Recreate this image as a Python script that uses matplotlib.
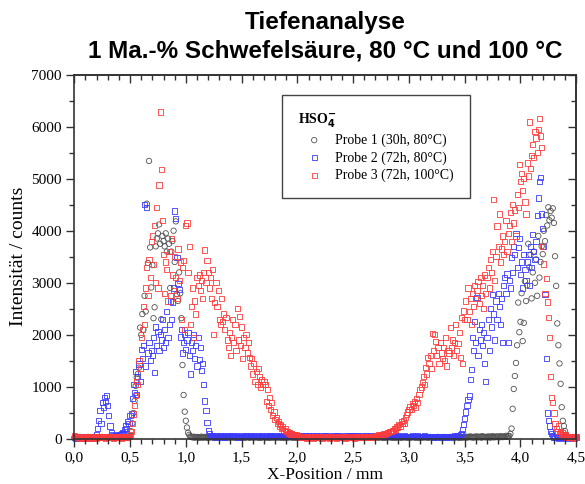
import numpy as np
import matplotlib
matplotlib.use("Agg")
from matplotlib import pyplot as plt
from matplotlib.ticker import MultipleLocator, FuncFormatter, NullFormatter

# measured intensities, one value per 0.01 mm, starting at 0.00 mm
probe1 = [
    30, 25, 35, 20, 30, 40, 25, 30, 35, 20,
    30, 25, 40, 30, 20, 35, 30, 25, 40, 30,
    25, 35, 30, 20, 30, 40, 25, 35, 30, 25,
    30, 40, 25, 30, 20, 35, 30, 25, 40, 30,
    35, 25, 30, 40, 20, 30, 35, 25, 30, 40,
    60, 150, 300, 500, 730, 1020, 1180, 1250, 1370, 2140,
    2000, 2400, 2100, 2750, 2450, 4520, 3380, 5340, 3680, 2910,
    3340, 2320, 2530, 3700, 3850, 3950, 4120, 3750, 2300, 3900,
    3800, 3700, 3950, 3600, 3850, 3750, 2900, 3600, 3800, 4000,
    3400, 4180, 2780, 2650, 3200, 2800, 2320, 1420, 845, 525,
    350, 220, 120, 80, 50, 40, 30, 45, 25, 35,
    40, 30, 20, 35, 45, 25, 30, 40, 35, 20,
    30, 25, 35, 40, 30, 20, 35, 30, 25, 40,
    30, 35, 25, 30, 40, 30, 20, 35, 30, 25,
    35, 30, 40, 25, 30, 35, 20, 30, 40, 30,
    25, 35, 30, 20, 35, 40, 30, 25, 30, 35,
    30, 25, 40, 30, 35, 25, 30, 20, 35, 30,
    40, 30, 25, 35, 30, 20, 30, 40, 25, 35,
    30, 35, 25, 40, 30, 25, 35, 30, 20, 30,
    35, 25, 30, 40, 30, 35, 25, 30, 35, 20,
    30, 40, 25, 30, 35, 30, 20, 35, 30, 40,
    25, 30, 35, 30, 25, 40, 30, 20, 35, 30,
    30, 35, 25, 30, 40, 25, 30, 35, 30, 20,
    35, 30, 40, 25, 30, 35, 30, 25, 40, 30,
    25, 35, 30, 20, 30, 40, 35, 25, 30, 35,
    30, 25, 35, 40, 30, 20, 35, 30, 25, 30,
    40, 30, 25, 35, 30, 35, 20, 30, 40, 25,
    30, 35, 30, 25, 40, 30, 35, 20, 30, 35,
    25, 30, 40, 30, 35, 25, 30, 35, 20, 30,
    35, 40, 30, 25, 30, 35, 30, 40, 25, 30,
    30, 25, 35, 30, 40, 30, 25, 35, 30, 20,
    35, 30, 25, 40, 30, 35, 30, 25, 30, 40,
    25, 35, 30, 30, 20, 35, 40, 30, 25, 35,
    30, 40, 25, 35, 30, 25, 30, 40, 35, 30,
    35, 25, 30, 40, 30, 20, 35, 30, 25, 40,
    30, 45, 25, 40, 35, 50, 30, 40, 25, 45,
    35, 50, 30, 40, 45, 25, 55, 35, 40, 30,
    45, 35, 50, 25, 40, 55, 30, 45, 35, 50,
    40, 30, 55, 45, 35, 50, 40, 60, 45, 55,
    60, 100, 200, 580, 960, 1210, 1460, 1800, 2620, 2050,
    2250, 2800, 1880, 2230, 3030, 2650, 2950, 3750, 3300, 3540,
    2700, 3200, 3600, 3000, 3450, 2750, 3900, 3100, 3400, 3700,
    3550, 4000, 3800, 4300, 4100, 4450, 4200, 4380, 4250, 4430,
    4150, 3510, 2940, 2220, 1800, 1450, 1060, 610, 350, 250,
    150, 80, 50, 40, 30, 35, 25, 40, 30, 20,
    35,
]

probe2 = [
    30, 20, 35, 25, 15, 30, 40, 20, 25, 35,
    30, 20, 40, 25, 30, 35, 20, 45, 30, 40,
    80, 200, 350, 550, 300, 700, 600, 800, 720, 840,
    650, 450, 250, 120, 80, 60, 50, 70, 40, 60,
    90, 80, 100, 130, 110, 180, 250, 200, 330, 300,
    450, 480, 780, 1050, 900, 1300, 860, 1200, 1440, 1100,
    1720, 1550, 1800, 4510, 1400, 4450, 1650, 1850, 1500, 1700,
    1600, 1950, 1270, 2150, 1800, 2070, 1700, 2000, 1900, 2300,
    1750, 2100, 1850, 2450, 1950, 2200, 2650, 2300, 2630, 2900,
    4380, 4230, 3480, 2980, 2870, 1960, 2100, 1650, 1850, 2000,
    1720, 1900, 2050, 1600, 1250, 1850, 1700, 2000, 1550, 1800,
    1400, 1950, 1520, 1750, 1310, 1450, 1050, 730, 540, 310,
    170, 100, 70, 55, 60, 45, 50, 65, 40, 55,
    50, 60, 45, 55, 65, 40, 50, 60, 55, 45,
    60, 50, 55, 65, 45, 50, 60, 40, 55, 50,
    45, 55, 60, 50, 65, 55, 45, 50, 60, 55,
    50, 60, 45, 55, 50, 65, 55, 45, 60, 50,
    55, 45, 60, 50, 55, 60, 45, 65, 50, 55,
    60, 50, 55, 45, 60, 55, 65, 50, 45, 60,
    50, 55, 65, 50, 45, 60, 55, 50, 60, 45,
    55, 60, 50, 55, 65, 45, 50, 60, 55, 50,
    60, 45, 55, 50, 60, 55, 45, 65, 50, 55,
    50, 60, 55, 45, 50, 60, 65, 50, 55, 45,
    55, 50, 60, 55, 45, 60, 50, 55, 65, 50,
    45, 55, 50, 60, 55, 50, 45, 60, 55, 65,
    50, 60, 45, 55, 60, 50, 55, 45, 60, 50,
    55, 45, 60, 50, 55, 65, 50, 55, 45, 60,
    50, 55, 60, 45, 50, 55, 60, 50, 45, 55,
    60, 50, 55, 45, 60, 50, 55, 60, 50, 45,
    55, 60, 45, 50, 55, 50, 60, 45, 55, 50,
    45, 55, 50, 60, 45, 55, 50, 45, 60, 50,
    55, 45, 50, 55, 60, 45, 50, 55, 45, 50,
    50, 45, 55, 40, 50, 55, 45, 50, 40, 55,
    45, 50, 40, 55, 45, 50, 45, 40, 50, 45,
    50, 60, 45, 55, 65, 50, 90, 110, 180, 280,
    400, 520, 650, 760, 825, 1150, 1340, 1950, 1700, 2260,
    1850, 2710, 1600, 2100, 1900, 2200, 1800, 2050, 1450, 1100,
    1950, 2300, 1700, 2500, 2150, 2780, 2400, 1900, 2650, 2300,
    2800, 2550, 2200, 2700, 1850, 2950, 3100, 2800, 3170, 1850,
    3050, 2900, 3480, 3200, 3700, 3550, 3950, 3300, 3680, 3850,
    3160, 3400, 2900, 3550, 3250, 3050, 3400, 3550, 2950, 3700,
    3300, 3930, 3600, 3450, 3800, 4300, 4630, 4950, 5030, 4320,
    4050, 3700, 2780, 1540, 500, 360, 250, 150, 100, 60,
    40, 30, 25, 35, 20, 30, 40, 25, 30, 35,
    20, 30, 40, 25, 35, 30, 20, 35, 25, 30,
    30,
]

probe3 = [
    60, 45, 30, 25, 40, 20, 35, 30, 15, 40,
    25, 35, 20, 45, 30, 15, 40, 25, 30, 50,
    20, 35, 45, 30, 25, 40, 55, 30, 20, 45,
    35, 25, 50, 30, 40, 20, 35, 45, 25, 30,
    40, 30, 20, 45, 35, 25, 50, 30, 40, 55,
    80, 150, 300, 480, 650, 830, 1100, 1050, 1500, 1350,
    1950, 2100, 2550, 2200, 2900, 3300, 2750, 3450, 3100, 3800,
    3900, 3350, 4100, 3000, 4450, 2900, 4880, 6280, 5170, 4200,
    3550, 2800, 3400, 3250, 2650, 3600, 2750, 3850, 3150, 2850,
    3500, 3100, 2700, 3650, 3050, 3400, 2300, 3300, 3430, 2100,
    4100, 4150, 3200, 3700, 2200, 2550, 2900, 1950, 2650, 2400,
    3100, 2950, 3150, 2850, 3050, 2700, 3200, 3630, 3000, 3430,
    3200, 2900, 3100, 2700, 3250, 2000, 2620, 3000, 2550, 2850,
    2300, 2200, 2700, 2250, 2400, 2100, 2330, 1900, 1750, 2050,
    1600, 1950, 2300, 1850, 2200, 1700, 2500, 1900, 2350, 1800,
    2150, 1550, 1950, 1750, 2000, 1650, 1850, 1560, 1400, 1550,
    1250, 1450, 1100, 1300, 1050, 1350, 1200, 1000, 1150, 1050,
    1100, 1050, 720, 950, 650, 800, 560, 700, 450, 520,
    380, 420, 300, 330, 250, 280, 200, 230, 170, 190,
    140, 150, 110, 120, 95, 100, 80, 85, 70, 75,
    60, 45, 30, 40, 25, 35, 50, 30, 20, 40,
    35, 25, 45, 30, 20, 40, 30, 50, 25, 35,
    30, 45, 20, 35, 40, 25, 30, 50, 35, 20,
    40, 30, 25, 45, 35, 20, 30, 40, 25, 35,
    25, 40, 35, 20, 45, 30, 35, 25, 40, 30,
    35, 20, 30, 45, 25, 40, 30, 35, 50, 25,
    40, 30, 45, 35, 25, 50, 40, 30, 55, 45,
    60, 70, 55, 80, 65, 90, 75, 100, 85, 110,
    100, 130, 120, 150, 140, 170, 160, 200, 190, 230,
    215, 280, 250, 330, 290, 360, 300, 420, 470, 520,
    560, 620, 560, 680, 640, 720, 600, 780, 700, 850,
    950, 1000, 1080, 1200, 1050, 1380, 1250, 1560, 1450, 1600,
    1350, 2030, 1700, 2000, 1880, 1600, 1750, 1450, 1850, 1650,
    1550, 1750, 1500, 1950, 1400, 1700, 1650, 2140, 1750, 1900,
    1600, 1850, 2200, 1700, 1830, 2050, 1560, 2330, 1450, 2460,
    2300, 2650, 2300, 2900, 2450, 2700, 2200, 2800, 2550, 2950,
    2700, 2850, 3030, 2600, 3100, 2750, 2950, 2500, 3150, 2800,
    3100, 3300, 2900, 3450, 3200, 3600, 4600, 3050, 3500, 4090,
    3700, 4320, 3400, 3650, 3900, 3550, 3800, 4200, 3600, 3950,
    4100, 4350, 3800, 4510, 4150, 4400, 3900, 4700, 4450, 5270,
    4950, 5100, 4780, 5000, 4550, 4320, 5300, 5050, 6090, 5200,
    5450, 5650, 5400, 5900, 5780, 5500, 5950, 6160, 5820, 5600,
    3700, 3360, 2800, 3080, 2630, 2330, 1950, 1200, 800, 700,
    500, 300, 200, 150, 250, 100, 150, 80, 120, 60,
    80, 40, 30, 50, 25, 35, 45, 30, 20, 40,
    50,
]

labels = ["Probe 1 (30h, 80°C)", "Probe 2 (72h, 80°C)", "Probe 3 (72h, 100°C)"]

x1 = np.arange(len(probe1)) * 0.01
x2 = np.arange(len(probe2)) * 0.01
x3 = np.arange(len(probe3)) * 0.01

plt.rcParams['font.family'] = ['Liberation Serif', 'DejaVu Serif']

fig = plt.figure(figsize=(5.85, 4.84), dpi=100)
ax = fig.add_axes([0.127, 0.093, 0.858, 0.753])

s1 = ax.scatter(x1, probe1, s=15, marker='o', facecolors='none',
                edgecolors='#505050', linewidths=0.6, clip_on=False)
s2 = ax.scatter(x2, probe2, s=14, marker='s', facecolors='none',
                edgecolors='#3a3aff', linewidths=0.6, clip_on=False)
s3 = ax.scatter(x3, probe3, s=14, marker='s', facecolors='none',
                edgecolors='#ff3a3a', linewidths=0.6, clip_on=False)

ax.set_xlim(0, 4.5)
ax.set_ylim(0, 7000)
ax.xaxis.set_major_locator(MultipleLocator(0.5))
ax.xaxis.set_minor_locator(MultipleLocator(0.1))
ax.yaxis.set_major_locator(MultipleLocator(1000))
ax.yaxis.set_minor_locator(MultipleLocator(500))
ax.xaxis.set_major_formatter(FuncFormatter(lambda v, p: f"{v:.1f}".replace('.', ',')))
ax.tick_params(which='both', direction='out', labelsize=11, width=1, colors='#333333',
               labelcolor='black')
ax.tick_params(which='major', length=6, pad=3)
ax.tick_params(which='minor', length=3.5)
for sp in ax.spines.values():
    sp.set_linewidth(1.2)
    sp.set_color('#333333')

# inward ticks on the top and right spines
top = ax.secondary_xaxis('top')
top.xaxis.set_major_locator(MultipleLocator(0.5))
top.xaxis.set_minor_locator(MultipleLocator(0.1))
top.xaxis.set_major_formatter(NullFormatter())
top.tick_params(which='both', direction='in', width=1, colors='#333333')
top.tick_params(which='major', length=6)
top.tick_params(which='minor', length=3.5)
top.spines['top'].set_linewidth(1.2)
top.spines['top'].set_color('#333333')
right = ax.secondary_yaxis('right')
right.yaxis.set_major_locator(MultipleLocator(1000))
right.yaxis.set_minor_locator(MultipleLocator(500))
right.yaxis.set_major_formatter(NullFormatter())
right.tick_params(which='both', direction='in', width=1, colors='#333333')
right.tick_params(which='major', length=6)
right.tick_params(which='minor', length=3.5)
right.spines['right'].set_linewidth(1.2)
right.spines['right'].set_color('#333333')

ax.set_xlabel("X-Position / mm", fontsize=12.5, labelpad=2)
ax.set_ylabel("Intensität / counts", fontsize=14, labelpad=3)

fig.text(0.556, 0.953, "Tiefenanalyse", ha='center', va='center',
         fontsize=17.5, fontweight='bold', family='Liberation Sans')
fig.text(0.556, 0.895, "1 Ma.-% Schwefelsäure, 80 °C und 100 °C", ha='center', va='center',
         fontsize=17.5, fontweight='bold', family='Liberation Sans')

leg = ax.legend([s1, s2, s3], labels, loc='upper left', bbox_to_anchor=(0.413, 0.943),
                borderaxespad=0, fontsize=10, title="HSO$_\\mathbf{4}^{\\mathbf{-}}$",
                title_fontproperties={'weight': 'bold', 'size': 10, 'family': 'Liberation Serif'},
                alignment='left', fancybox=False, framealpha=1, edgecolor='#444444',
                handlelength=2.4, handletextpad=0.3, borderpad=1.15, labelspacing=0.3,
                scatterpoints=1)
leg.get_frame().set_linewidth(1.0)

fig.savefig("out.png", dpi=100)
